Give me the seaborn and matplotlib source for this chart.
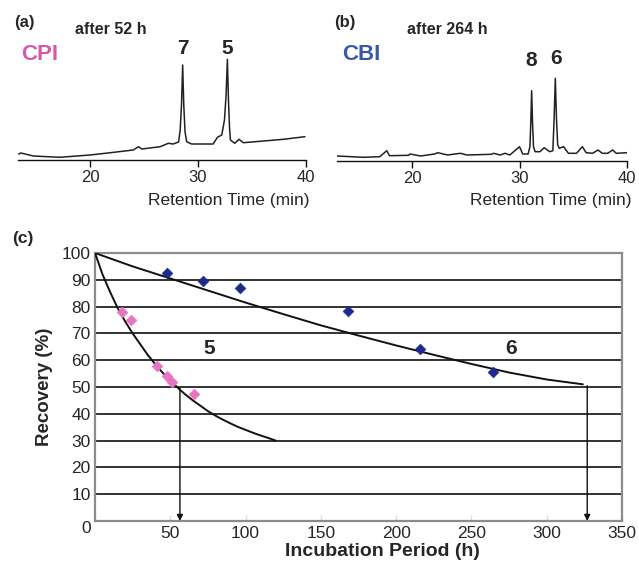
import numpy as np
import pandas as pd
import matplotlib
matplotlib.use("Agg")
import matplotlib.pyplot as plt
import seaborn as sns

# ---------------- data ----------------
# (a) CPI chromatogram after 52 h (retention time min, relative signal)
cpi_time = [13.4, 13.6, 14.75, 17.2, 20.0, 21.9, 24.0, 24.5, 24.8, 26.5, 27.25, 27.7, 28.2,
            28.35, 28.47, 28.58, 28.68, 28.8, 28.95, 29.4, 31.4, 31.8, 32.2, 32.45, 32.6,
            32.72, 32.82, 32.92, 33.0, 33.4, 33.8, 34.2, 36.4, 37.9, 39.9]
cpi_signal = [6, 7, 4, 2.7, 5, 7.3, 10, 13.3, 11, 13.3, 16.7, 16, 18,
              30, 55, 95, 55, 28, 18.3, 16, 16, 22.7, 25, 40, 65,
              100.7, 60, 32, 20, 16.7, 20.7, 17.3, 19.3, 20.7, 23.3]

# (b) CBI chromatogram after 264 h
cbi_time = [13.0, 15.5, 17.0, 17.65, 17.9, 19.7, 19.8, 20.8, 22.1, 22.4, 23.3, 24.5, 25.1,
            27.4, 27.6, 28.2, 28.65, 29.1, 30.0, 30.3, 30.8, 30.97, 31.05, 31.13, 31.21,
            31.3, 31.45, 31.9, 32.3, 32.8, 33.1, 33.22, 33.33, 33.44, 33.55, 33.7, 34.1,
            34.55, 35.3, 35.85, 36.2, 36.8, 37.3, 37.7, 38.2, 38.67, 39.0, 40.0]
cbi_signal = [4.7, 3.4, 4, 10, 5, 5.4, 6.7, 4.7, 6.7, 8, 5.7, 7.4, 5.7,
              6.4, 7.4, 5.7, 7.4, 5.7, 14, 6.7, 6.7, 14, 38, 70, 38,
              14, 9, 9, 13, 9, 10, 42, 82.4, 42, 16, 12.4, 14,
              7.4, 7.4, 14, 8, 7.4, 10.7, 7.4, 7.4, 10.7, 7.4, 8]

# (c) recovery vs incubation period
cpi_hours = [18, 24, 41, 48, 51, 66]
cpi_recovery = [78, 75, 58, 54, 52, 47.5]
cbi_hours = [48, 72, 96, 168, 216, 264]
cbi_recovery = [92.5, 89.5, 87, 78.5, 64, 55.5]

# fitted curves
cpi_fit_h = [0, 5, 10, 15, 20, 25, 30, 35, 40, 45, 50, 55, 60, 65, 70, 75, 80,
             85, 90, 95, 100, 105, 110, 115, 120]
cpi_fit_r = [100, 92, 85.5, 79.5, 74.5, 70, 66, 62, 58.5, 55.3, 52.4, 49.7, 47.2, 45,
             43, 41, 39.3, 37.8, 36.4, 35.1, 34, 32.9, 31.9, 31, 30]
cbi_fit_h = [0, 25, 50, 75, 100, 125, 150, 175, 200, 225, 250, 275, 300, 324]
cbi_fit_r = [100, 95, 90.5, 86, 81.5, 77.2, 73, 69.2, 65.5, 62, 58.6, 55.4, 52.8, 51]

cpi_half_h = 56.4
cbi_half_h = 326.9

x_ticks_c = [0, 50, 100, 150, 200, 250, 300, 350]
y_ticks_c = [0, 10, 20, 30, 40, 50, 60, 70, 80, 90, 100]
x_ticks_rt = [20, 30, 40]

# ---------------- style ----------------
sns.set_theme(style="white")
plt.rcParams["font.family"] = ["Liberation Sans", "DejaVu Sans"]

PINK = "#d65aaa"
PINK_PT = "#e775bf"
BLUE = "#3b57a8"
NAVY = "#1c2a8c"

W, H = 639, 563
fig = plt.figure(figsize=(W / 100, H / 100), dpi=100)


def fx(px):
    return px / W


def fy(py):
    return 1 - py / H


def chrom_axes(ax, df, xlim):
    sns.lineplot(data=df, x="t", y="s", ax=ax, color="#222222", lw=1.1,
                 sort=False, estimator=None)
    ax.set_xlim(*xlim)
    ax.set_ylim(0, 120)
    for s in ["left", "top", "right"]:
        ax.spines[s].set_visible(False)
    ax.spines["bottom"].set_color("#111111")
    ax.spines["bottom"].set_linewidth(1.0)
    ax.set_yticks([])
    ax.set_xticks(x_ticks_rt)
    ax.set_xticklabels([str(v) for v in x_ticks_rt])
    ax.tick_params(axis="x", direction="out", length=5, width=1.0,
                   color="#111111", labelsize=12, pad=2.5, bottom=True)
    ax.set_xlabel("")
    ax.set_ylabel("")
    ax.patch.set_alpha(0)


# (a)
axA = fig.add_axes([fx(18), fy(160), fx(306) - fx(18), 120 / H])
dfA = pd.DataFrame({"t": cpi_time, "s": cpi_signal})
chrom_axes(axA, dfA, (13.33, 40))
axA.text(28.6, 111, "7", ha="center", va="center", fontsize=15, fontweight="bold")
axA.text(32.75, 111, "5", ha="center", va="center", fontsize=15, fontweight="bold")

# (b)
axB = fig.add_axes([fx(337), fy(160.7), fx(627) - fx(337), 120 / H])
dfB = pd.DataFrame({"t": cbi_time, "s": cbi_signal})
chrom_axes(axB, dfB, (13.02, 40))
axB.text(31.1, 100.7, "8", ha="center", va="center", fontsize=15, fontweight="bold")
axB.text(33.4, 102, "6", ha="center", va="center", fontsize=15, fontweight="bold")

fig.text(fx(309), fy(200), "Retention Time (min)", ha="right", va="center", fontsize=12.5)
fig.text(fx(632), fy(200), "Retention Time (min)", ha="right", va="center", fontsize=12.5)

fig.text(fx(14), fy(22), "(a)", ha="left", va="center", fontsize=12, fontweight="bold")
fig.text(fx(75), fy(30), "after 52 h", ha="left", va="center", fontsize=11.5, fontweight="bold")
fig.text(fx(21), fy(54), "CPI", ha="left", va="center", fontsize=16, fontweight="bold", color=PINK)

fig.text(fx(334), fy(22), "(b)", ha="left", va="center", fontsize=12, fontweight="bold")
fig.text(fx(407), fy(30), "after 264 h", ha="left", va="center", fontsize=11.5, fontweight="bold")
fig.text(fx(342), fy(55), "CBI", ha="left", va="center", fontsize=16, fontweight="bold", color=BLUE)

# (c)
axC = fig.add_axes([fx(95), fy(521), fx(622) - fx(95), (521 - 253) / H])
axC.set_xlim(0, 350)
axC.set_ylim(0, 100)
for yv in y_ticks_c[1:-1]:
    axC.axhline(yv, color="#222222", lw=1.3, zorder=1)
for s in axC.spines.values():
    s.set_color("#8c8c8c")
    s.set_linewidth(1.6)

fitA = pd.DataFrame({"h": cpi_fit_h, "r": cpi_fit_r})
fitB = pd.DataFrame({"h": cbi_fit_h, "r": cbi_fit_r})
sns.lineplot(data=fitA, x="h", y="r", ax=axC, color="#111111", lw=1.4, zorder=3)
sns.lineplot(data=fitB, x="h", y="r", ax=axC, color="#111111", lw=1.4, zorder=3)

ptsA = pd.DataFrame({"h": cpi_hours, "r": cpi_recovery})
ptsB = pd.DataFrame({"h": cbi_hours, "r": cbi_recovery})
sns.scatterplot(data=ptsA, x="h", y="r", ax=axC, marker="D", s=30, color=PINK_PT,
                edgecolor=PINK_PT, zorder=4)
sns.scatterplot(data=ptsB, x="h", y="r", ax=axC, marker="D", s=30, color=NAVY,
                edgecolor=NAVY, zorder=4)

for hx, r0 in [(cpi_half_h, 49.5), (cbi_half_h, 50.5)]:
    axC.annotate("", xy=(hx, 0), xytext=(hx, r0),
                 arrowprops=dict(arrowstyle="-|>", color="#111111", lw=1.0,
                                 mutation_scale=9, shrinkA=0, shrinkB=0), zorder=5)

axC.text(76, 64.5, "5", ha="center", va="center", fontsize=15, fontweight="bold")
axC.text(276, 64.5, "6", ha="center", va="center", fontsize=15, fontweight="bold")

axC.set_xticks(x_ticks_c)
axC.set_xticklabels([""] + [str(v) for v in x_ticks_c[1:]])
axC.set_yticks(y_ticks_c)
axC.set_yticklabels([str(v) for v in y_ticks_c])
axC.tick_params(axis="x", direction="in", length=4, width=1, color="#e0e0e0",
                labelsize=12.5, pad=3.5, bottom=True)
axC.tick_params(axis="y", length=0, labelsize=12.5, pad=3)
axC.get_yticklabels()[0].set_verticalalignment("top")
axC.set_xlabel("")
axC.set_ylabel("Recovery (%)", fontsize=13.5, fontweight="bold", labelpad=6)
axC.grid(False)

fig.text(fx(382), fy(551), "Incubation Period (h)", ha="center", va="center",
         fontsize=14, fontweight="bold")
fig.text(fx(12), fy(238), "(c)", ha="left", va="center", fontsize=12.5, fontweight="bold")

fig.savefig("out.png", dpi=100)
